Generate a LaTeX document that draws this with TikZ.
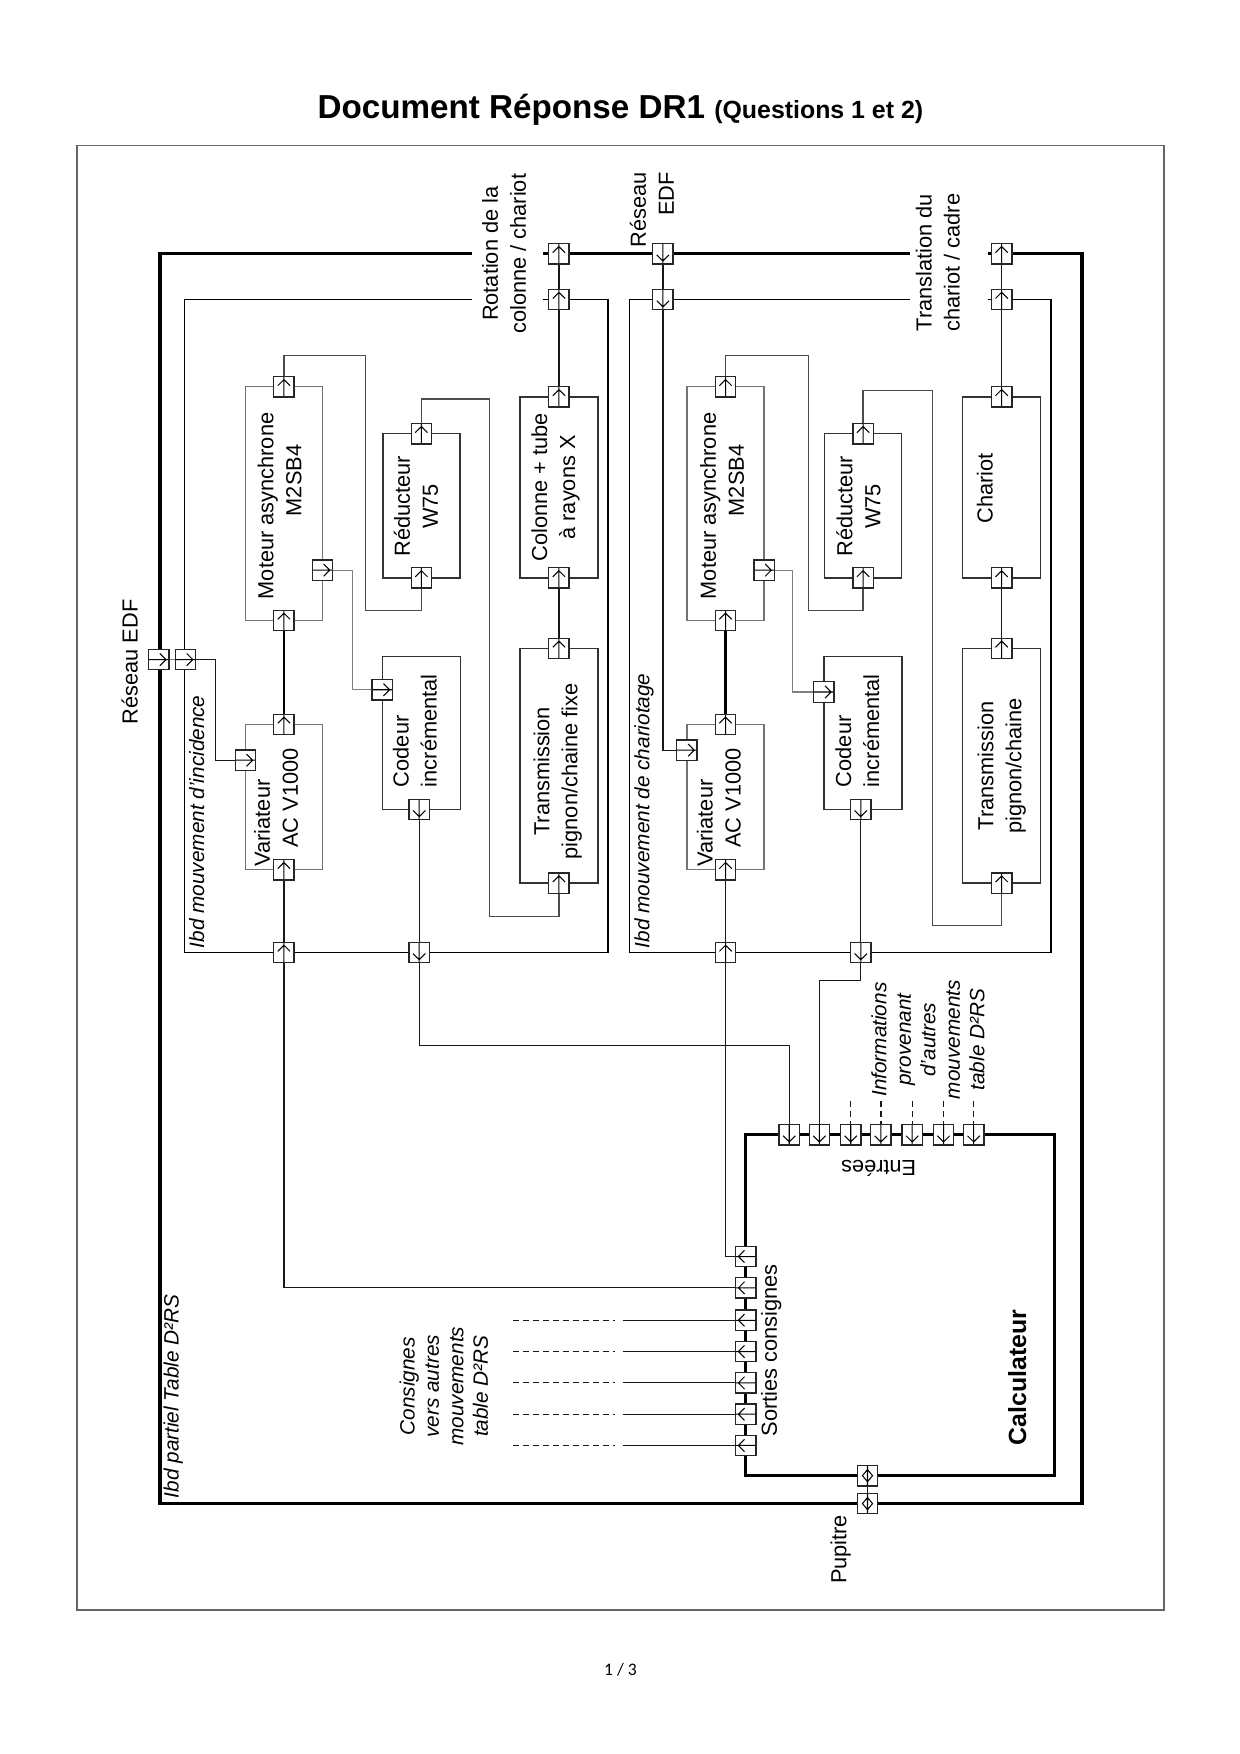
\documentclass[tikz,border=0pt]{standalone}
\usepackage{fontspec}
\setmainfont{Liberation Sans}
\newfontfamily\footfont{Carlito}
\pgfdeclarelayer{bg}
\pgfsetlayers{bg,main}
\def\uu{0.018936cm}
\begin{document}
\begin{tikzpicture}[x=\uu, y=-\uu,
  every node/.style={inner sep=0pt, outer sep=0pt},
  port/.style={draw=black!85, fill=white, line width=0.65pt, minimum size=0.345cm},
  glyph/.style={line width=0.5pt, black},
  pu/.style={port, path picture={\draw[glyph] (path picture bounding box.south) -- (path picture bounding box.north) (path picture bounding box.center) ++(-5.5,-1) -- ++(5.5,-5.5) -- ++(5.5,5.5);}},
  pd/.style={port, path picture={\draw[glyph] (path picture bounding box.south) -- (path picture bounding box.north) (path picture bounding box.center) ++(-5.5,1) -- ++(5.5,5.5) -- ++(5.5,-5.5);}},
  pr/.style={port, path picture={\draw[glyph] (path picture bounding box.west) -- (path picture bounding box.east) (path picture bounding box.center) ++(1,-5.5) -- ++(5.5,5.5) -- ++(-5.5,5.5);}},
  pl/.style={port, path picture={\draw[glyph] (path picture bounding box.west) -- (path picture bounding box.east) (path picture bounding box.center) ++(-1,-5.5) -- ++(-5.5,5.5) -- ++(5.5,5.5);}},
  pb/.style={port, path picture={\draw[glyph] (path picture bounding box.south) -- (path picture bounding box.north) (path picture bounding box.center) ++(0,-5.5) -- ++(4.5,5.5) -- ++(-4.5,5.5) -- ++(-4.5,-5.5) -- cycle;}},
  blk/.style={draw=black!80, line width=0.65pt},
  blg/.style={draw=black!55, line width=0.65pt},
  wire/.style={draw=black!90, line width=0.6pt},
  wireg/.style={draw=black!50, line width=0.6pt},
  wired/.style={draw=black!70, line width=0.6pt},
  wirek/.style={draw=black, line width=1pt},
  dsh/.style={dash pattern=on 2.9pt off 1.9pt},
  outer/.style={draw=black, line width=1.6pt},
  inner/.style={draw=black, line width=0.85pt},
  txt/.style={font=\fontsize{10.5}{13.5}\selectfont},
  itx/.style={font=\fontsize{10}{11.8}\selectfont\itshape},
]
\useasboundingbox (0,0) rectangle (1109,1569);

% title, page frame, footer
\node (title) at (555,98) {\fontsize{16}{19}\selectfont\bfseries Document Réponse DR1 \fontsize{12}{14}\selectfont(Questions 1 et 2)};
\draw[draw=black!60, line width=0.8pt] (69,130) rectangle (1041,1440);
\node (foot) at (555,1494) {\footfont\fontsize{8.5}{10}\selectfont 1 / 3};

% ibd partiel frame
\draw[outer] (422,227) -- (143,227) -- (143,1345) -- (968,1345) -- (968,227) -- (884,227);
\draw[outer] (486,227) -- (814,227);
% ibd mouvement d'incidence
\draw[inner] (422,268) -- (165,268) -- (165,852) -- (544,852) -- (544,268) -- (486,268);
% ibd mouvement de chariotage
\draw[inner] (814,268) -- (563,268) -- (563,852) -- (940,852) -- (940,268) -- (884,268);

% ---------- blocks, left
\node[blg, minimum width=69*\uu, minimum height=130*\uu] (VarL) at (254,713) {};
\node[blg, minimum width=69*\uu, minimum height=209*\uu] (MotL) at (254,450.5) {};
\node[blk, minimum width=69*\uu, minimum height=129*\uu] (RedL) at (377,452.5) {};
\node[blk, minimum width=70*\uu, minimum height=137*\uu] (CodL) at (377,655.5) {};
\node[blk, minimum width=70*\uu, minimum height=162*\uu] (ColL) at (500,436) {};
\node[blk, minimum width=70*\uu, minimum height=210*\uu] (TrL) at (500,685) {};
% ---------- blocks, right
\node[blg, minimum width=69*\uu, minimum height=130*\uu] (VarR) at (649,713) {};
\node[blg, minimum width=69*\uu, minimum height=209*\uu] (MotR) at (649,450.5) {};
\node[blk, minimum width=69*\uu, minimum height=129*\uu] (RedR) at (772,452.5) {};
\node[blk, minimum width=70*\uu, minimum height=137*\uu] (CodR) at (772,655.5) {};
\node[blk, minimum width=70*\uu, minimum height=162*\uu] (Char) at (896,436) {};
\node[blk, minimum width=70*\uu, minimum height=210*\uu] (TrR) at (896,685) {};
% calculateur
\node[outer, minimum width=276*\uu, minimum height=305*\uu] (calc) at (805,1167.5) {};

% ---------- block texts
\node[txt, rotate=90, anchor=west, align=left] (tVarL) at (247,775) {Variateur\\\hspace*{9pt}AC V1000};
\node[txt, rotate=90, anchor=west, align=left] (tMotL) at (250,536) {Moteur asynchrone\\\hspace*{40pt}M2SB4};
\node[txt, rotate=90, align=center] (tRedL) at (372,453) {Réducteur\\W75};
\node[txt, rotate=90, anchor=west, align=left] (tCodL) at (371,704) {Codeur\\incrémental};
\node[txt, rotate=90, align=center] (tColL) at (497,436) {Colonne + tube\\à rayons X};
\node[txt, rotate=90, align=center] (tTrL) at (499,690) {Transmission\\pignon/chaine fixe};
\node[txt, rotate=90, anchor=west, align=left] (tVarR) at (643,775) {Variateur\\\hspace*{9pt}AC V1000};
\node[txt, rotate=90, anchor=west, align=left] (tMotR) at (646,536) {Moteur asynchrone\\\hspace*{40pt}M2SB4};
\node[txt, rotate=90, align=center] (tRedR) at (768,453) {Réducteur\\W75};
\node[txt, rotate=90, anchor=west, align=left] (tCodR) at (767,704) {Codeur\\incrémental};
\node[txt, rotate=90] (tChar) at (881,437) {Chariot};
\node[txt, rotate=90, align=center] (tTrR) at (896,685) {Transmission\\pignon/chaine};

% ---------- labels
\node[txt, rotate=90] (lEDF) at (116,592) {Réseau EDF};
\node[txt, rotate=90, align=center] (lRot) at (451,227) {Rotation de la\\colonne / chariot};
\node[txt, rotate=90, align=right, anchor=east] (lEDF2) at (583,154) {Réseau\\EDF};
\node[txt, rotate=90, align=center] (lTra) at (839,235) {Translation du\\chariot / cadre};
\node[txt, rotate=90] (lPup) at (752,1386) {Pupitre};
\node[itx, rotate=90, anchor=west] (lIbd1) at (176,848) {Ibd mouvement d'incidence};
\node[itx, rotate=90, anchor=west] (lIbd2) at (576,848) {Ibd mouvement de chariotage};
\node[itx, rotate=90, anchor=west] (lIbd0) at (155,1340) {Ibd partiel Table D²RS};
\node[txt, rotate=90] (lSor) at (690,1208) {Sorties consignes};
\node[font=\fontsize{12}{14}\selectfont\bfseries, rotate=90] (lCalc) at (910,1232) {Calculateur};
\node[txt, rotate=180] (lEnt) at (786,1045) {Entrées};
\node[itx, rotate=90, align=center] (lInfo) at (830,930) {Informations\\provenant\\d'autres\\mouvements\\table D²RS};
\node[itx, rotate=90, align=center] (lCons) at (397,1240) {Consignes\\vers autres\\mouvements\\table D²RS};

% ---------- ports on frames
\node[pu] (pRot1) at (500,227) {};
\node[pu] (pRot2) at (500,268) {};
\node[pd] (pEDF1) at (593,227) {};
\node[pd] (pEDF2) at (593,268) {};
\node[pu] (pTra1) at (896,227) {};
\node[pu] (pTra2) at (896,268) {};
\node[pr] (pEo) at (142,590) {};
\node[pr] (pEi) at (166,590) {};
\node[pu] (pLb1) at (254,852) {};
\node[pd] (pLb2) at (375,852) {};
\node[pu] (pRb1) at (649,852) {};
\node[pd] (pRb2) at (770,852) {};
\node[pb] (pP1) at (776,1320) {};
\node[pb] (pP2) at (776,1345) {};
% ---------- ports on left blocks
\node[pr] (pVLin) at (219.5,680) {};
\node[pu] (pVLt) at (254,648) {};
\node[pu] (pVLb) at (254,778) {};
\node[pu] (pMLt) at (254,346) {};
\node[pu] (pMLb) at (254,555) {};
\node[pr] (pMLr) at (288.5,510) {};
\node[pu] (pRLt) at (377,388) {};
\node[pu] (pRLb) at (377,517) {};
\node[pu] (pCLt) at (500,355) {};
\node[pu] (pCLb) at (500,517) {};
\node[pu] (pTLt) at (500,580) {};
\node[pu] (pTLb) at (500,790) {};
\node[pr] (pCoLin) at (342,617) {};
\node[pd] (pCoLb) at (375,724) {};
% ---------- ports on right blocks
\node[pr] (pVRin) at (614.5,671) {};
\node[pu] (pVRt) at (649,648) {};
\node[pu] (pVRb) at (649,778) {};
\node[pu] (pMRt) at (649,346) {};
\node[pu] (pMRb) at (649,555) {};
\node[pr] (pMRr) at (683.5,510) {};
\node[pu] (pRRt) at (772,388) {};
\node[pu] (pRRb) at (772,517) {};
\node[pu] (pChT) at (896,355) {};
\node[pu] (pChB) at (896,517) {};
\node[pu] (pTRt) at (896,580) {};
\node[pu] (pTRb) at (896,790) {};
\node[pr] (pCoRin) at (737,619) {};
\node[pd] (pCoRb) at (770,724) {};
% ---------- calculateur ports
\foreach \k/\xx in {1/706,2/733,3/761,4/788,5/816,6/844,7/871} {\node[pd] (pI\k) at (\xx,1015) {};}
\foreach \k/\yy in {1/1124,2/1152,3/1181,4/1209,5/1237,6/1265,7/1293} {\node[pl] (pS\k) at (667,\yy) {};}

% ---------- connectors
\begin{pgfonlayer}{bg}
\draw[wireg] (pEo.center) -- (pEi.center);
\draw[wire] (pEi.center) -- ++(27,0) |- (pVLin.center);
\draw[wirek] (pVLt.center) -- (pMLb.center);
\draw[wired] (pMLt.center) |- (327,318) -- (327,546) -| (pRLb.center);
\draw[wired] (pRLt.center) |- (438,357) -- (438,820) -| (pTLb.center);
\draw[wire] (pTLt.center) -- (pCLb.center);
\draw[wire] (pCLt.center) -- (pRot2.center) -- (pRot1.center);
\draw[wireg] (pMLr.center) -| (315,617) -- (pCoLin.center);
\draw[wire] (pCoLb.center) -- (pLb2.center) -- ++(0,83) -| (pI1.center);
\draw[wire] (pS2.center) -| (pLb1.center) -- (pVLb.center);

\draw[wire] (pEDF1.center) -- (pEDF2.center) |- (pVRin.center);
\draw[wirek] (pVRt.center) -- (pMRb.center);
\draw[wired] (pMRt.center) |- (723,318) -- (723,546) -| (pRRb.center);
\draw[wired] (pRRt.center) |- (834,349) -- (834,828) -| (pTRb.center);
\draw[wire] (pTRt.center) -- (pChB.center);
\draw[wire] (pChT.center) -- (pTra2.center) -- (pTra1.center);
\draw[wireg] (pMRr.center) -| (709,619) -- (pCoRin.center);
\draw[wire] (pCoRb.center) -- (pRb2.center) -- ++(0,25) -| (pI2.center);
\draw[wire] (pS1.center) -| (pRb1.center) -- (pVRb.center);

\foreach \k/\yy in {3/1181,4/1209,5/1237,6/1265,7/1293} {
  \coordinate (sA\k) at (459,\yy);
  \coordinate (sB\k) at (550,\yy);
  \coordinate (sC\k) at (557,\yy);
  \draw[wire, dsh] (sA\k) -- (sB\k);
  \draw[wire] (sC\k) -- (pS\k.center);
}
\foreach \k/\xx in {3/761,4/788,5/816,6/844,7/871} {
  \coordinate (iA\k) at (\xx,985);
  \draw[wire, dsh] (iA\k) -- (pI\k.center);
}
\draw[wire] (pP1.center) -- (pP2.center);
\end{pgfonlayer}
\end{tikzpicture}
\end{document}
